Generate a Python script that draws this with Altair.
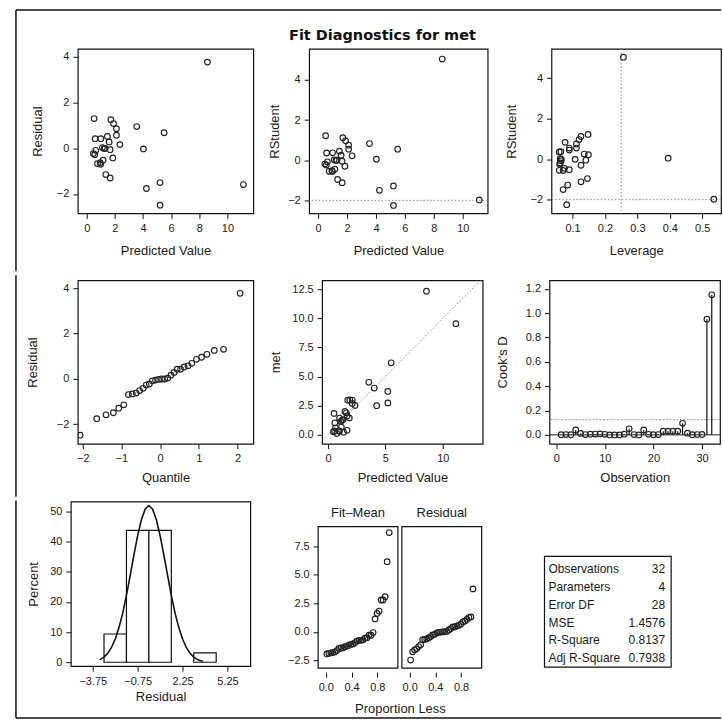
import altair as alt
import pandas as pd

# ------------------------------------------------------------------ data
OBS = list(range(1, 33))
PRED = [0.47, 0.57, 0.64, 4.24, 0.59, 1.00, 0.76, 0.99, 0.95, 1.16, 1.11, 1.23, 1.30, 1.47, 0.52, 1.59,
        1.66, 5.21, 1.85, 2.11, 2.35, 1.71, 1.66, 1.35, 1.90, 5.21, 3.55, 2.11, 5.50, 4.03, 11.14, 8.58]
RESID = [-0.23, -0.28, -0.09, -1.76, 0.42, 0.42, -0.67, -0.70, -0.63, -0.52, 0.03, -0.01, -0.01, 0.52, 1.30, 0.28,
         -0.06, -1.50, -0.42, 0.57, 0.16, 1.25, -1.30, -1.15, 1.08, -2.49, 0.95, 0.86, 0.68, -0.03, -1.59, 3.77]
MET = [0.24, 0.29, 0.55, 2.48, 1.01, 1.42, 0.09, 0.29, 0.32, 0.64, 1.14, 1.22, 1.29, 1.99, 1.82, 1.87,
       1.60, 3.71, 1.43, 2.68, 2.51, 2.96, 0.36, 0.20, 2.98, 2.72, 4.50, 2.97, 6.18, 4.00, 9.55, 12.35]
RSTUD = [-0.19, -0.24, -0.08, -1.50, 0.36, 0.37, -0.55, -0.56, -0.52, -0.45, 0.02, -0.01, 0.00, 0.45, 1.22, 0.25,
         -0.05, -1.28, -0.30, 0.55, 0.22, 1.12, -1.12, -0.96, 0.97, -2.25, 0.83, 0.75, 0.55, 0.05, -1.98, 5.04]
LEV = [0.062, 0.060, 0.065, 0.071, 0.059, 0.064, 0.059, 0.071, 0.090, 0.075, 0.062, 0.108, 0.065, 0.090, 0.148, 0.136,
       0.141, 0.085, 0.126, 0.112, 0.149, 0.126, 0.126, 0.146, 0.120, 0.082, 0.077, 0.112, 0.090, 0.395, 0.536, 0.257]
COOK = [0.002, 0.003, 0.001, 0.040, 0.012, 0.003, 0.006, 0.007, 0.008, 0.005, 0.000, 0.000, 0.000, 0.006, 0.050, 0.003,
        0.000, 0.040, 0.005, 0.002, 0.003, 0.030, 0.030, 0.030, 0.030, 0.095, 0.014, 0.002, 0.003, 0.004, 0.950, 1.150]
NORM_Q = [-2.07, -1.64, -1.40, -1.21, -1.07, -0.94, -0.82, -0.72, -0.62, -0.53, -0.44, -0.36, -0.28, -0.20, -0.12, -0.04,
          0.04, 0.12, 0.20, 0.28, 0.36, 0.44, 0.53, 0.62, 0.72, 0.82, 0.94, 1.07, 1.21, 1.40, 1.64, 2.07]
BIN_LO = [-3.0, -1.5, 0.0, 3.0]
BIN_HI = [-1.5, 0.0, 1.5, 4.5]
BIN_PCT = [9.375, 43.75, 43.75, 3.125]
CURVE_X = [-3.3, -3.0, -2.75, -2.5, -2.25, -2.0, -1.75, -1.5, -1.25, -1.0, -0.75, -0.5, -0.25, 0.0,
           0.25, 0.5, 0.75, 1.0, 1.25, 1.5, 1.75, 2.0, 2.25, 2.5, 2.75, 3.0, 3.3, 3.6]
CURVE_Y = [0.8, 1.7, 3.0, 4.9, 7.7, 11.5, 16.3, 22.2, 28.8, 35.6, 42.0, 47.3, 50.8, 52.0,
           50.8, 47.3, 42.0, 35.6, 28.8, 22.2, 16.3, 11.5, 7.7, 4.9, 3.0, 1.7, 0.7, 0.3]
STAT_LABELS = ["Observations", "Parameters", "Error DF", "MSE", "R-Square", "Adj R-Square"]
STAT_VALUES = ["32", "4", "28", "1.4576", "0.8137", "0.7938"]
RSTUD_LIMIT = [-2]
LEV_LIMIT = [0.25]
COOK_LIMIT = [0.125]
COOK_BASE = [0]
DIAG = [-0.5, 13.3]
SPREAD_PANELS = ["Fit\u2013Mean", "Residual"]

FONT = "Liberation Sans"
INK = "#1a1a1a"

diag = pd.DataFrame({"obs": OBS, "pred": PRED, "resid": RESID, "met": MET,
                     "rstud": RSTUD, "lev": LEV, "cook": COOK})
qq = pd.DataFrame({"q": NORM_Q, "r": sorted(RESID)})
hist = pd.DataFrame({"lo": BIN_LO, "hi": BIN_HI, "pct": BIN_PCT})
curve = pd.DataFrame({"x": CURVE_X, "y": CURVE_Y})
mean_met = sum(MET) / len(MET)
fit_mean = pd.DataFrame({"value": [p - mean_met for p in PRED]})
resid_df = pd.DataFrame({"value": RESID})
stats = pd.DataFrame({"idx": list(range(len(STAT_LABELS))), "label": STAT_LABELS, "value": STAT_VALUES})


def enc(ch, field, dom, ticks, title, fmt=None, offset=None, rng=None, **extra):
    kw = dict(values=ticks, title=title, labelFlush=False, labelOverlap=False)
    if fmt:
        kw["format"] = fmt
    if offset:
        kw["offset"] = offset
    kw.update(extra)
    sc = alt.Scale(domain=dom, nice=False, zero=False)
    if rng:
        sc = alt.Scale(domain=dom, nice=False, zero=False, range=rng)
    if ch == "x":
        return alt.X(field, type="quantitative", scale=sc, axis=alt.Axis(**kw))
    return alt.Y(field, type="quantitative", scale=sc, axis=alt.Axis(**kw))


PT = dict(shape="circle", filled=False, size=32, color="#222", strokeWidth=1.15, opacity=1, clip=True)
REF = dict(color="#8a8a8a", strokeDash=[1.5, 2], strokeWidth=1)
FR = dict(color="#111", strokeWidth=1.5)
ONE = pd.DataFrame({"k": [0]})
NOFRAME = alt.ViewBackground(stroke="transparent")


def spacer(w, h):
    return (alt.Chart(ONE).mark_point(opacity=0, size=1)
            .encode(x=alt.value(0), y=alt.value(0))
            .properties(width=w, height=h, view=NOFRAME))


def vrule(x, y1, y2):
    return alt.Chart(ONE).mark_rule(**FR).encode(x=alt.value(x), y=alt.value(y1), y2=alt.value(y2))


def hrule(x1, x2, y):
    return alt.Chart(ONE).mark_rule(**FR).encode(x=alt.value(x1), x2=alt.value(x2), y=alt.value(y))


R1X = dict(titlePadding=11)   # row-1 x-axis title spacing
R2X = dict(titlePadding=8)    # row-2 x-axis title spacing

# ---- panel 1: residual vs predicted (+ outer frame top / left part)
X1 = ("pred", [-0.64, 11.84], [0, 2, 4, 6, 8, 10], "Predicted Value")
Y1 = ("resid", [-2.85, 4.35], [-2, 0, 2, 4], "Residual")
p1 = alt.layer(
    alt.Chart(diag).mark_point(**PT).encode(x=enc("x", *X1, **R1X), y=enc("y", *Y1)),
    hrule(-62, 645, -39),
    vrule(-62, -39, 223),
).properties(width=176, height=165)

# ---- panel 2: RStudent vs predicted
X2 = ("pred", [-0.62, 11.72], [0, 2, 4, 6, 8, 10], "Predicted Value")
Y2 = ("rstud", [-2.65, 5.55], [-2, 0, 2, 4], "RStudent")
p2 = alt.layer(
    alt.Chart(pd.DataFrame({"v": RSTUD_LIMIT})).mark_rule(**REF).encode(
        y=enc("y", "v", *Y2[1:], titlePadding=6)),
    alt.Chart(diag).mark_point(**PT).encode(x=enc("x", *X2, **R1X), y=enc("y", *Y2, titlePadding=6)),
).properties(width=179, height=165,
             title=alt.TitleParams("Fit Diagnostics for met", font="DejaVu Sans", fontSize=14.5,
                                   fontWeight="bold", color="#111", anchor="middle", frame="group",
                                   dx=-16, offset=5))

# ---- panel 3: RStudent vs leverage
X3 = ("lev", [0.035, 0.558], [0.1, 0.2, 0.3, 0.4, 0.5], "Leverage", ".1f")
Y3 = ("rstud", [-2.68, 5.45], [-2, 0, 2, 4], "RStudent")
p3 = alt.layer(
    alt.Chart(pd.DataFrame({"v": RSTUD_LIMIT})).mark_rule(**REF).encode(y=enc("y", "v", *Y3[1:])),
    alt.Chart(pd.DataFrame({"v": LEV_LIMIT})).mark_rule(**REF).encode(x=enc("x", "v", *X3[1:], **R1X)),
    alt.Chart(diag).mark_point(**PT).encode(x=enc("x", *X3, **R1X), y=enc("y", *Y3)),
).properties(width=170, height=165)

# ---- panel 4: QQ plot (+ frame left part)
X4 = ("q", [-2.13, 2.41], [-2, -1, 0, 1, 2], "Quantile")
Y4 = ("r", [-2.87, 4.35], [-2, 0, 2, 4], "Residual")
p4 = alt.layer(
    alt.Chart(qq).mark_point(**PT).encode(x=enc("x", *X4, **R2X), y=enc("y", *Y4, titlePadding=17)),
    vrule(-62, -5, 217),
).properties(width=176, height=164)

# ---- panel 5: observed vs predicted
X5 = ("pred", [-0.52, 13.48], [0, 5, 10], "Predicted Value")
Y5 = ("met", [-0.8, 13.3], [0, 2.5, 5, 7.5, 10, 12.5], "met", ".1f")
p5 = alt.layer(
    alt.Chart(pd.DataFrame({"d": DIAG})).mark_line(clip=True, **REF).encode(
        x=enc("x", "d", *X5[1:], **R2X), y=enc("y", "d", *Y5[1:], titlePadding=9.5)),
    alt.Chart(diag).mark_point(**PT).encode(x=enc("x", *X5, **R2X), y=enc("y", *Y5, titlePadding=9.5)),
).properties(width=161, height=164)

# ---- panel 6: Cook's D
X6 = ("obs", [-1.4, 33.7], [0, 10, 20, 30], "Observation")
Y6 = ("cook", [-0.073, 1.27], [0, 0.2, 0.4, 0.6, 0.8, 1.0, 1.2], "Cook's D", ".1f")
Y6P = dict(titlePadding=16)
p6 = alt.layer(
    alt.Chart(pd.DataFrame({"v": COOK_LIMIT})).mark_rule(**REF).encode(y=enc("y", "v", *Y6[1:], **Y6P)),
    alt.Chart(pd.DataFrame({"v": COOK_BASE})).mark_rule(color="#222", strokeWidth=1).encode(
        y=enc("y", "v", *Y6[1:], **Y6P)),
    alt.Chart(diag).mark_rule(color="#111", strokeWidth=1.2).encode(
        x=enc("x", *X6, **R2X), y=enc("y", *Y6, **Y6P), y2=alt.datum(0)),
    alt.Chart(diag).mark_point(**PT).encode(x=enc("x", *X6, **R2X), y=enc("y", *Y6, **Y6P)),
).properties(width=171, height=164)

# ---- panel 7: residual histogram with normal curve (+ frame left / bottom)
X7 = ("lo", [-5.22, 6.78], [-3.75, -0.75, 2.25, 5.25], "Residual", ".2f")
Y7 = ("pct", [-1.3, 53.3], [0, 10, 20, 30, 40, 50], "Percent")
p7 = alt.layer(
    alt.Chart(hist).mark_rect(fill="white", stroke="#111", strokeWidth=1.2).encode(
        x=enc("x", *X7, titlePadding=4), x2="hi:Q", y=enc("y", *Y7, titlePadding=9), y2=alt.datum(0)),
    alt.Chart(curve).mark_line(color="#111", strokeWidth=1.6).encode(
        x=enc("x", "x", *X7[1:], titlePadding=4), y=enc("y", "y", *Y7[1:], titlePadding=9)),
    vrule(-55, -1, 217),
    hrule(-55, 652, 217),
).properties(width=180, height=165)

# ---- panel 8: residual-fit spread plot (two cells)
SP_X = ([-0.12, 1.12], [0.0, 0.4, 0.8])
SP_Y = ([-3.2, 9.25], [-2.5, 0, 2.5, 5, 7.5])
SP_RANGE = [167, 25]


def spread_cell(df, label, show_y, xtitle):
    xkw = dict(titleX=82, titleAlign="center", titlePadding=10) if xtitle else {}
    x = enc("x", "prop", SP_X[0], SP_X[1], xtitle, ".1f", 4, **xkw)
    if show_y:
        y = enc("y", "value", SP_Y[0], SP_Y[1], None, ".1f", None, SP_RANGE)
    else:
        y = alt.Y("value", type="quantitative", axis=None,
                  scale=alt.Scale(domain=SP_Y[0], nice=False, zero=False, range=SP_RANGE))
    pts = (alt.Chart(df)
           .transform_window(rn="row_number()", sort=[alt.SortField("value")])
           .transform_joinaggregate(n="count()")
           .transform_calculate(prop="(datum.rn - 0.5) / datum.n")
           .mark_point(**PT).encode(x=x, y=y))
    box = alt.Chart(ONE).mark_rect(fillOpacity=0, stroke="#111", strokeWidth=1.2).encode(
        x=alt.value(0), x2=alt.value(80), y=alt.value(25), y2=alt.value(167))
    lab = alt.Chart(pd.DataFrame({"t": [label]})).mark_text(
        font=FONT, fontSize=13, color=INK, baseline="middle").encode(
        x=alt.value(40), y=alt.value(11), text="t:N")
    return alt.layer(box, pts, lab).properties(width=80, height=167, view=NOFRAME)


p8a = spread_cell(fit_mean, SPREAD_PANELS[0], True, "Proportion Less")
p8b = spread_cell(resid_df, SPREAD_PANELS[1], False, None)

# ---- panel 9: fit statistics box
ybox = alt.Y("idx:O", axis=None, scale=alt.Scale(range=[68, 157], padding=0))
TX = dict(font=FONT, fontSize=12, color=INK, baseline="middle")
p9 = alt.layer(
    alt.Chart(ONE).mark_rect(fillOpacity=0, stroke="#111", strokeWidth=1.2).encode(
        x=alt.value(0), x2=alt.value(127), y=alt.value(55), y2=alt.value(166)),
    alt.Chart(stats).mark_text(align="left", **TX).encode(x=alt.value(4), y=ybox, text="label:N"),
    alt.Chart(stats).mark_text(align="right", **TX).encode(x=alt.value(121), y=ybox, text="value:N"),
).properties(width=127, height=166, view=NOFRAME)

# ------------------------------------------------------------------ layout
row1 = alt.hconcat(spacer(7, 1), p1, spacer(56, 1), p2, spacer(64, 1), p3, spacing=0, bounds="flush")
row2 = alt.hconcat(spacer(7, 1), p4, spacer(69, 1), p5, spacer(67, 1), p6, spacing=0, bounds="flush")
row3 = alt.hconcat(p7, spacer(68, 1), p8a, spacer(4, 1), p8b, spacer(63, 1), p9,
                   spacing=0, bounds="flush")

chart = (alt.vconcat(row1, row2, row3, spacing=0)
         .properties(padding={"left": 14, "top": 7, "right": 0, "bottom": 4}, background="white")
         .configure(font=FONT)
         .configure_view(stroke="#111", strokeWidth=1.2)
         .configure_axis(domain=False, grid=False, ticks=True, tickColor="#111", tickSize=5, tickWidth=1,
                         labelFont=FONT, labelFontSize=11, labelColor=INK,
                         titleFont=FONT, titleFontSize=13, titleFontWeight="normal", titleColor=INK)
         .configure_axisX(labelPadding=4, titlePadding=14)
         .configure_axisY(labelPadding=4, titlePadding=12))

chart.save("out.html", embed_options={"renderer": "svg", "actions": False})
